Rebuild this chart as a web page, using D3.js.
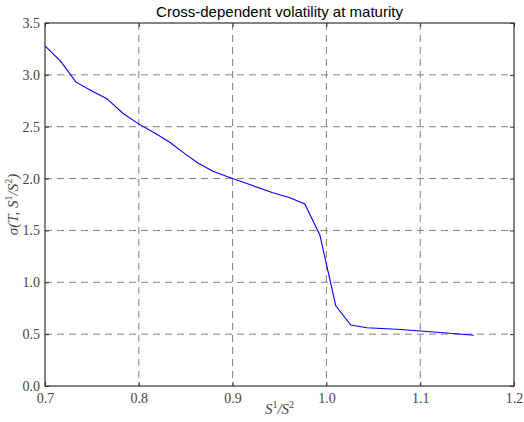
<!DOCTYPE html>
<html><head><meta charset="utf-8">
<script src="https://cdn.jsdelivr.net/npm/d3@7"></script>
<style>body{margin:0;background:#fff;} svg{display:block;}
.serif{font-family:'Liberation Serif','DejaVu Serif',serif !important;}
</style>
</head><body>
<svg id="c" width="524" height="422"></svg>
<script>
const xValues = [0.700,0.717,0.733,0.750,0.766,0.783,0.801,0.817,0.833,0.849,0.863,0.879,0.897,0.919,0.942,0.961,0.977,0.993,1.010,1.026,1.043,1.075,1.100,1.132,1.157];
const yValues = [3.28,3.127,2.93,2.845,2.77,2.63,2.52,2.44,2.35,2.24,2.15,2.07,2.01,1.94,1.865,1.816,1.755,1.456,0.774,0.588,0.562,0.547,0.53,0.508,0.489];
const xTicks = [0.7,0.8,0.9,1.0,1.1,1.2];
const yTicks = [0.0,0.5,1.0,1.5,2.0,2.5,3.0,3.5];

const svg = d3.select("#c");
const L=45,R=514,T=23,B=386;
const x = d3.scaleLinear().domain([0.7,1.2]).range([L,R]);
const y = d3.scaleLinear().domain([0,3.5]).range([B,T]);

// grid
const g = svg.append("g");
g.selectAll(".vx").data(xTicks.slice(1,-1)).enter().append("line")
  .attr("x1",d=>x(d)).attr("x2",d=>x(d)).attr("y1",T).attr("y2",B)
  .attr("stroke","#808080").attr("stroke-width",1).attr("stroke-dasharray","7,5");
g.selectAll(".hy").data(yTicks.slice(1,-1)).enter().append("line")
  .attr("y1",d=>y(d)).attr("y2",d=>y(d)).attr("x1",L).attr("x2",R)
  .attr("stroke","#808080").attr("stroke-width",1).attr("stroke-dasharray","7,5");

// axes
const fmt = d3.format(".1f");
const xa = svg.append("g").attr("transform",`translate(0,${B})`)
  .call(d3.axisBottom(x).tickValues(xTicks).tickFormat(fmt).tickSize(-4).tickPadding(5));
const ya = svg.append("g").attr("transform",`translate(${L},0)`)
  .call(d3.axisLeft(y).tickValues(yTicks).tickFormat(fmt).tickSize(-4).tickPadding(5));
svg.append("g").attr("transform",`translate(0,${T})`)
  .call(d3.axisTop(x).tickValues(xTicks).tickFormat("").tickSize(-4));
svg.append("g").attr("transform",`translate(${R},0)`)
  .call(d3.axisRight(y).tickValues(yTicks).tickFormat("").tickSize(-4));
svg.selectAll(".domain").remove();
svg.selectAll(".tick line").attr("stroke","#333");
svg.selectAll(".tick text").classed("serif",true).style("font-size","14px").style("fill","#444");
xa.selectAll(".tick text").attr("dy","0.85em");

svg.append("rect").attr("x",L).attr("y",T).attr("width",R-L).attr("height",B-T)
  .attr("fill","none").attr("stroke","#333").attr("stroke-width",1.2);

// line
const pts = xValues.map((v,i)=>[v,yValues[i]]);
svg.append("path").datum(pts)
  .attr("d",d3.line().x(d=>x(d[0])).y(d=>y(d[1])))
  .attr("fill","none").attr("stroke","#0000ff").attr("stroke-width",1.1);

// title
svg.append("text").attr("x",(L+R)/2).attr("y",17).attr("text-anchor","middle")
  .style("font-family","'Liberation Sans', Arial, sans-serif").style("font-size","15px").attr("fill","#000")
  .text("Cross-dependent volatility at maturity");

// x label
const xl = svg.append("text").attr("x",(L+R)/2).attr("y",414).attr("text-anchor","middle")
  .classed("serif",true).style("font-size","15px").attr("fill","#444").style("font-style","italic");
xl.append("tspan").text("S");
xl.append("tspan").style("font-size","10px").style("font-style","normal").attr("dy",-6).text("1");
xl.append("tspan").attr("dy",6).text("/S");
xl.append("tspan").style("font-size","10px").style("font-style","normal").attr("dy",-6).text("2");

// y label
const yl = svg.append("text").attr("transform",`translate(18,${(T+B)/2}) rotate(-90)`).attr("text-anchor","middle")
  .classed("serif",true).style("font-size","15px").attr("fill","#444").style("font-style","italic");
yl.append("tspan").text("σ(T, S");
yl.append("tspan").style("font-size","10px").style("font-style","normal").attr("dy",-6).text("1");
yl.append("tspan").attr("dy",6).text("/S");
yl.append("tspan").style("font-size","10px").style("font-style","normal").attr("dy",-6).text("2");
yl.append("tspan").attr("dy",6).text(")");
</script>
</body></html>
